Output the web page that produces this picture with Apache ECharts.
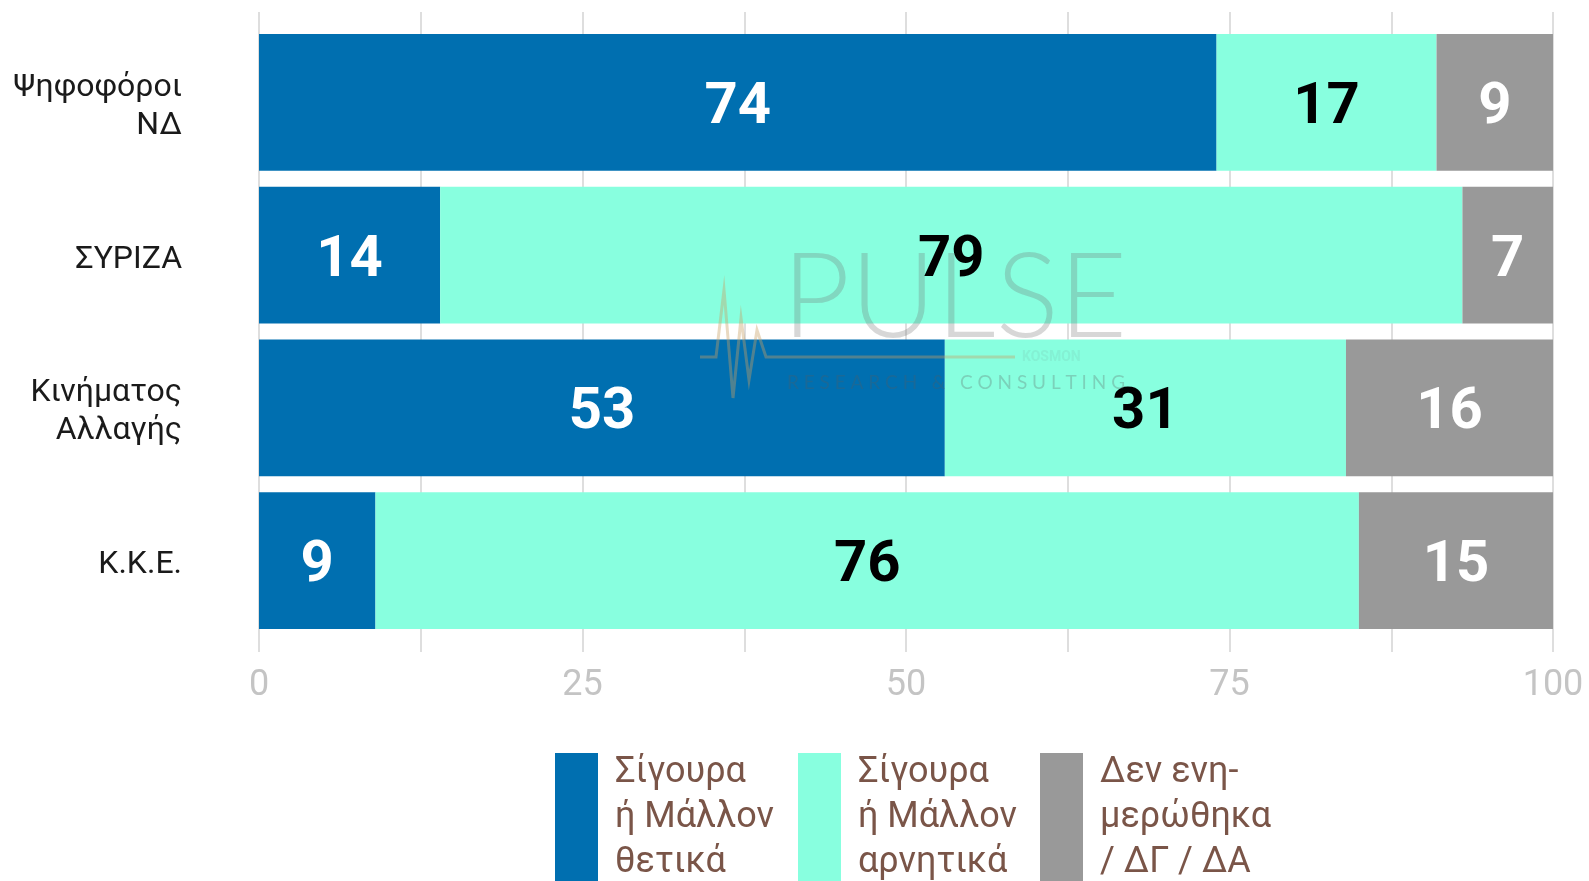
<!DOCTYPE html>
<html>
<head>
<meta charset="utf-8">
<script src="https://cdn.jsdelivr.net/npm/echarts@6/dist/echarts.min.js"></script>
<style>
  html, body { margin: 0; padding: 0; background: #fff; }
  #chart { width: 1589px; height: 881px; }
</style>
</head>
<body>
<div id="chart"></div>
<script>
  // data
  var categories = ['Ψηφοφόροι\nΝΔ', 'ΣΥΡΙΖΑ', 'Κινήματος\nΑλλαγής', 'Κ.Κ.Ε.'];
  var seriesNames = ['Σίγουρα\nή Μάλλον\nθετικά', 'Σίγουρα\nή Μάλλον\nαρνητικά', 'Δεν ενη-\nμερώθηκα\n/ ΔΓ / ΔΑ'];
  var positive = [74, 14, 53, 9];
  var negative = [17, 79, 31, 76];
  var dontKnow = [9, 7, 16, 15];
  var xTicks = [0, 25, 50, 75, 100];

  var colors = ['#006fb0', '#88ffdf', '#999999'];
  var labelColors = ['#ffffff', '#000000', '#ffffff'];
  var FONT = 'Roboto, "Noto Sans", sans-serif';

  var chart = echarts.init(document.getElementById('chart'));

  var values = [positive, negative, dontKnow];
  var series = values.map(function (v, i) {
    return {
      name: seriesNames[i],
      type: 'bar',
      stack: 'total',
      xAxisIndex: 0,
      yAxisIndex: 0,
      barCategoryGap: '10.5%',
      itemStyle: { color: colors[i] },
      label: {
        show: true,
        position: 'inside',
        offset: [0, 6],
        color: labelColors[i],
        fontFamily: FONT,
        fontWeight: 'bold',
        fontSize: 58
      },
      data: v
    };
  });

  var legendX = [555, 798, 1040];
  var legends = seriesNames.map(function (n, i) {
    return {
      data: [n],
      left: legendX[i],
      top: 750,
      padding: 0,
      icon: 'rect',
      itemWidth: 43,
      itemHeight: 129,
      selectedMode: false,
      textStyle: {
        color: '#7a5548',
        fontFamily: FONT,
        fontSize: 36,
        lineHeight: 45,
        padding: [0, 0, 0, 12]
      }
    };
  });

  var option = {
    animation: false,
    backgroundColor: '#ffffff',
    grid: [
      { left: 259, right: 36, top: 26, bottom: 244 },
      { left: 259, right: 36, top: 12, bottom: 229 }
    ],
    xAxis: [{
      type: 'value',
      gridIndex: 0,
      min: 0,
      max: 100,
      interval: 12.5,
      axisLine: { show: false },
      axisTick: { show: false },
      splitLine: { show: false },
      axisLabel: {
        margin: 31,
        color: '#c4c4c4',
        fontFamily: FONT,
        fontSize: 36,
        formatter: function (v) {
          return xTicks.indexOf(v) >= 0 ? String(v) : '';
        }
      }
    }, {
      type: 'value',
      gridIndex: 1,
      min: 0,
      max: 100,
      interval: 12.5,
      axisLine: { show: false },
      axisTick: { show: false },
      axisLabel: { show: false },
      splitLine: { show: true, lineStyle: { color: '#dedede', width: 2 } }
    }],
    yAxis: [{
      type: 'category',
      gridIndex: 0,
      inverse: true,
      data: categories,
      axisLine: { show: false },
      axisTick: { show: false },
      axisLabel: {
        margin: 77,
        align: 'right',
        formatter: function (v) {
          return v.split('\n').map(function (s) { return '{c|' + s + '}'; }).join('\n');
        },
        rich: {
          c: {
            color: '#1a1a1a',
            fontFamily: FONT,
            fontSize: 32,
            lineHeight: 38,
            align: 'right',
            padding: [9, 0, 0, 0]
          }
        }
      }
    }, {
      type: 'category',
      gridIndex: 1,
      data: categories,
      show: false
    }],
    legend: legends,
    series: series,
    graphic: [
      {
        type: 'polyline',
        z: 100,
        silent: true,
        shape: {
          points: [[700, 357], [716, 357], [724, 290], [733, 398], [741, 318], [749, 380], [757, 330], [766, 357], [1015, 357]]
        },
        style: { stroke: 'rgba(200,160,100,0.4)', lineWidth: 3, fill: null }
      },
      {
        type: 'text',
        z: 100,
        silent: true,
        left: 782,
        top: 240,
        style: {
          text: 'PULSE',
          fill: 'rgba(110,110,110,0.28)',
          font: '300 118px Lato, Roboto, sans-serif'
        }
      },
      {
        type: 'text',
        z: 100,
        silent: true,
        left: 1022,
        top: 350,
        style: {
          text: 'KOSMON',
          fill: 'rgba(120,200,180,0.25)',
          font: 'bold 14px Roboto, sans-serif'
        }
      },
      {
        type: 'text',
        z: 100,
        silent: true,
        left: 787,
        top: 373,
        style: {
          text: 'R E S E A R C H   &   C O N S U L T I N G',
          fill: 'rgba(90,90,90,0.28)',
          font: '19px Lato, Roboto, sans-serif'
        }
      }
    ]
  };

  chart.setOption(option);
</script>
</body>
</html>
